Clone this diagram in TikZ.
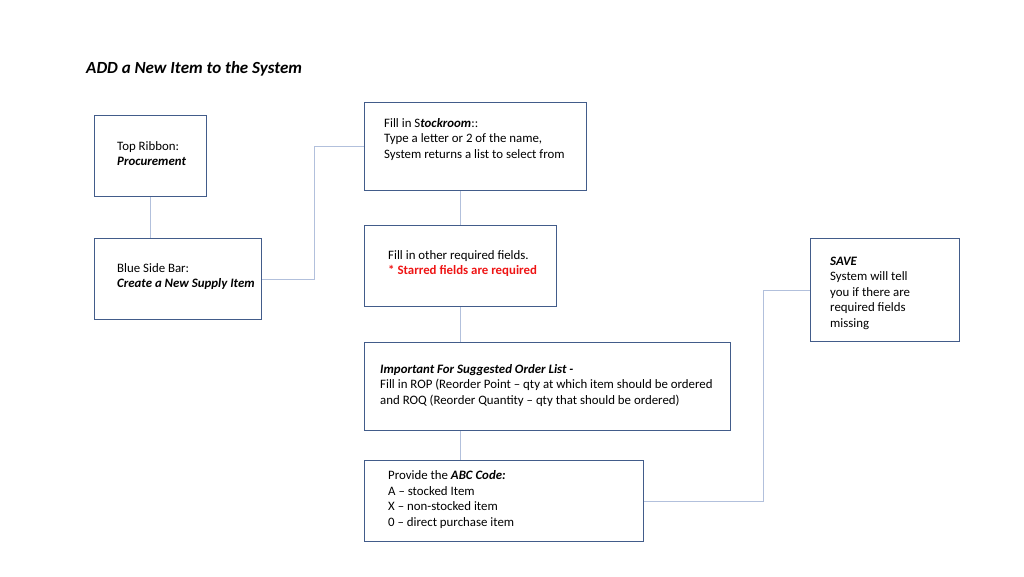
\documentclass[tikz,border=0pt]{standalone}
\usepackage{fontspec}
\setmainfont{Carlito}
\usepackage{xcolor}
\usetikzlibrary{positioning,calc}
\definecolor{boxblue}{RGB}{66,92,138}
\definecolor{linkblue}{RGB}{178,192,220}
\definecolor{starred}{RGB}{238,20,20}

\begin{document}
\begin{tikzpicture}[
  x=1pt, y=-1pt,
  box/.style={draw=boxblue, line width=0.9pt, anchor=north west, inner sep=0pt},
  txt/.style={anchor=west, align=left, inner sep=0pt, font=\fontsize{12.85}{15.5}\selectfont},
  link/.style={draw=linkblue, line width=0.9pt}
]
\useasboundingbox (0,0) rectangle (1024,576);

% Title
\node[anchor=west, inner sep=0pt, font=\fontsize{17}{20}\selectfont\bfseries\itshape] (title) at (86,69) {ADD a New Item to the System};

% Left column
\node[box, minimum width=112pt, minimum height=81pt] (ribbon) at (94,115) {};
\node[txt] (ribbontxt) at ([xshift=23pt, yshift=2.5pt]ribbon.west) {Top Ribbon:\\ \textbf{\textit{Procurement}}};

\node[box, minimum width=167pt, minimum height=81pt] (sidebar) at (94,238) {};
\node[txt] (sidebartxt) at ([xshift=23pt, yshift=2.5pt]sidebar.west) {Blue Side Bar:\\ \textbf{\textit{Create a New Supply Item}}};

% Middle column
\node[box, minimum width=222pt, minimum height=88pt] (stock) at (364,102) {};
\node[txt] (stocktxt) at ([xshift=20pt, yshift=7pt]stock.west) {Fill in S\textbf{\textit{tockroom}}::\\ Type a letter or 2 of the name,\\ System returns a list to select from};

\node[box, minimum width=192pt, minimum height=81pt] (fields) at (364,225) {};
\node[txt] (fieldstxt) at ([xshift=24pt, yshift=2.5pt]fields.west) {Fill in other required fields.\\ \textcolor{starred}{\textbf{* Starred fields are required}}};

\node[box, minimum width=366pt, minimum height=88pt] (rop) at (364,342) {};
\node[txt] (roptxt) at ([xshift=16pt, yshift=1pt]rop.west) {\textbf{\textit{Important For Suggested Order List -}}\\ Fill in ROP (Reorder Point -- qty at which item should be ordered\\ and ROQ (Reorder Quantity -- qty that should be ordered)};

\node[box, minimum width=279pt, minimum height=81pt] (abc) at (364,460) {};
\node[txt] (abctxt) at ([xshift=24pt, yshift=1.5pt]abc.west) {Provide the \textbf{\textit{ABC Code:}}\\ A -- stocked Item\\ X -- non-stocked item\\ 0 -- direct purchase item};

% Right column
\node[box, minimum width=149pt, minimum height=103pt] (save) at (810,238) {};
\node[txt] (savetxt) at ([xshift=20pt, yshift=-3pt]save.west) {\textbf{\textit{SAVE}}\\ System will tell\\ you if there are\\ required fields\\ missing};

% Connectors
\draw[link] (ribbon.south) -- (ribbon.south |- sidebar.north);
\draw[link] (sidebar.east) -- ++(53,0) |- (stock.west);
\draw[link] (stock.south -| fields.north) -- (fields.north);
\draw[link] (fields.south) -- (rop.north -| fields.south);
\draw[link] (rop.south -| fields.south) -- (abc.north -| fields.south);
\draw[link] (abc.east) -- ++(120,0) |- (save.west);

\end{tikzpicture}
\end{document}
